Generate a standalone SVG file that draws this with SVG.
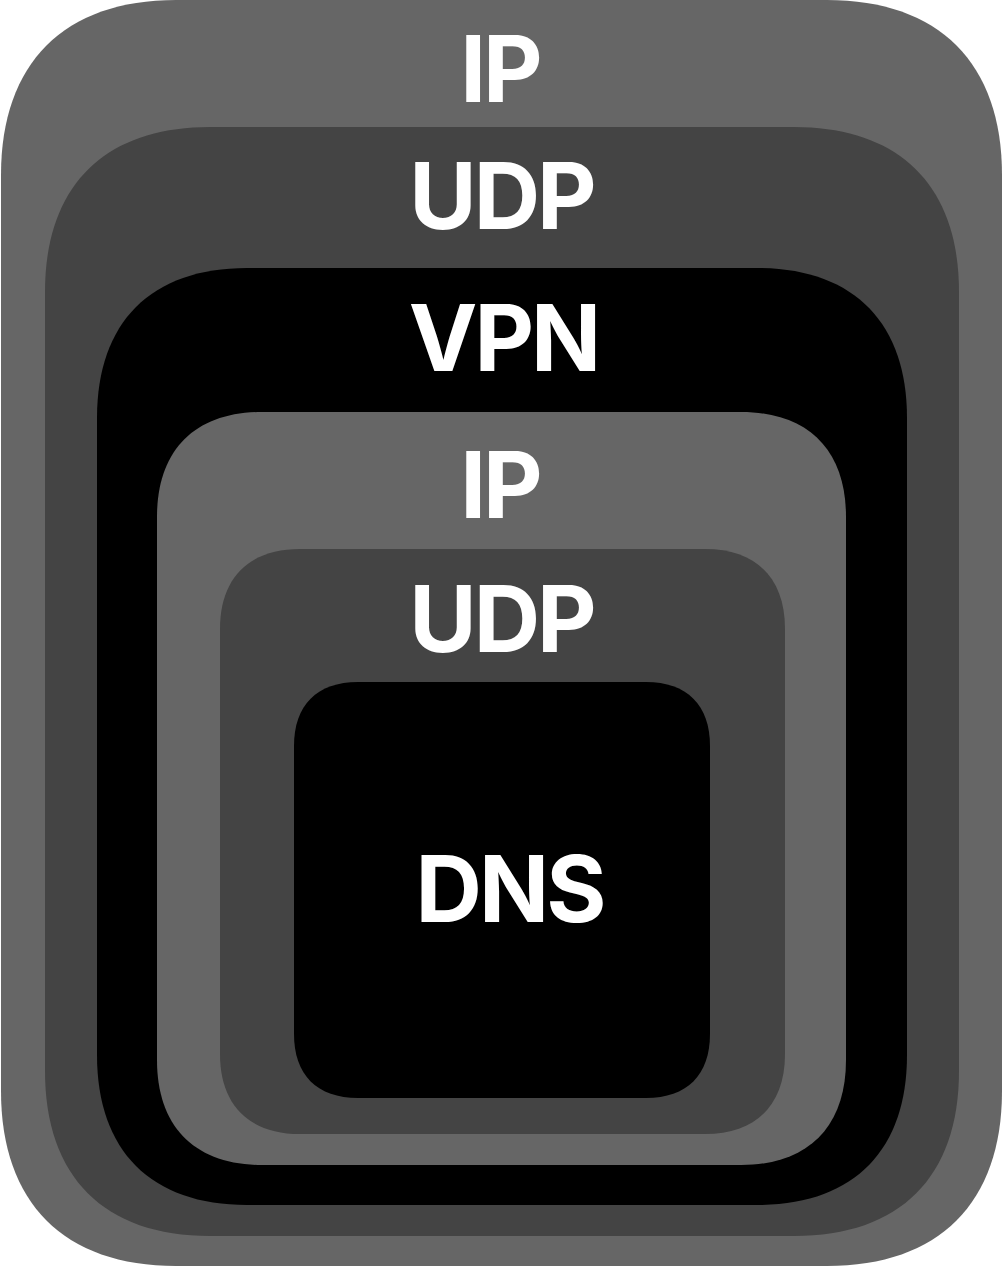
<svg xmlns="http://www.w3.org/2000/svg" width="1003" height="1266" viewBox="0 0 1003 1266">
<style>
.g1{fill:#666666}
.g2{fill:#444444}
.g3{fill:#000000}
.lbl{font-family:Inter,"Liberation Sans",sans-serif;font-weight:700;font-size:92px;letter-spacing:-3px;fill:#ffffff;text-anchor:middle}
</style>
<rect width="1003" height="1266" fill="#ffffff"/>
<g id="layer-ip-outer">
<path class="g1" d="M176,0 H827 C939,0 1002,63 1002,175 V1091 C1002,1203 939,1266 827,1266 H176 C64,1266 1,1203 1,1091 V175 C1,63 64,0 176,0 Z"/>
<text class="lbl" x="500" y="102">IP</text>
</g>
<g id="layer-udp-outer">
<path class="g2" d="M210,127 H794 C900,127 959,186 959,292 V1071 C959,1177 900,1236 794,1236 H210 C104,1236 45,1177 45,1071 V292 C45,186 104,127 210,127 Z"/>
<text class="lbl" x="501.5" y="229">UDP</text>
</g>
<g id="layer-vpn">
<path class="g3" d="M247,268 H757 C853,268 907,322 907,418 V1055 C907,1151 853,1205 757,1205 H247 C151,1205 97,1151 97,1055 V418 C97,322 151,268 247,268 Z"/>
<text class="lbl" x="503.5" y="371">VPN</text>
</g>
<g id="layer-ip-inner">
<path class="g1" d="M262,412 H741 C808,412 846,450 846,517 V1060 C846,1127 808,1165 741,1165 H262 C195,1165 157,1127 157,1060 V517 C157,450 195,412 262,412 Z"/>
<text class="lbl" x="500" y="518">IP</text>
</g>
<g id="layer-udp-inner">
<path class="g2" d="M300,549 H705 C756,549 785,578 785,629 V1054 C785,1105 756,1134 705,1134 H300 C249,1134 220,1105 220,1054 V629 C220,578 249,549 300,549 Z"/>
<text class="lbl" x="501.5" y="652">UDP</text>
</g>
<g id="layer-dns">
<path class="g3" d="M358,682 H646 C687,682 710,705 710,746 V1034 C710,1075 687,1098 646,1098 H358 C317,1098 294,1075 294,1034 V746 C294,705 317,682 358,682 Z"/>
<text class="lbl" x="509.5" y="922">DNS</text>
</g>
<g id="connectors"/>
</svg>
